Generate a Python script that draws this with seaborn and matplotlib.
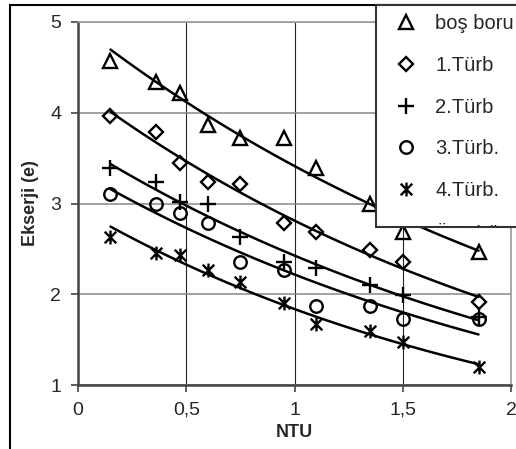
import numpy as np
import pandas as pd
import matplotlib
matplotlib.use("Agg")
import matplotlib.pyplot as plt
from matplotlib.path import Path
from matplotlib.patches import Rectangle
from matplotlib.transforms import Bbox, TransformedBbox
import seaborn as sns

# data
ntu = [0.15, 0.36, 0.47, 0.60, 0.75, 0.95, 1.10, 1.35, 1.50, 1.85]
bos_boru = [4.57, 4.34, 4.22, 3.87, 3.72, 3.72, 3.39, 3.00, 2.69, 2.47]
turb1 = [3.96, 3.79, 3.45, 3.24, 3.22, 2.79, 2.69, 2.49, 2.35, 1.91]
turb2 = [3.39, 3.24, 3.02, 3.00, 2.63, 2.35, 2.29, 2.10, 1.99, 1.75]
turb3 = [3.11, 2.99, 2.90, 2.79, 2.36, 2.27, 1.87, 1.87, 1.73, 1.73]
turb4 = [2.63, 2.46, 2.43, 2.27, 2.13, 1.90, 1.67, 1.59, 1.47, 1.20]
labels = ["boş boru", "1.Türb", "2.Türb", "3.Türb.", "4.Türb."]
trend_label = "Üstel (boş boru)"
xticks = [0, 0.5, 1, 1.5, 2]
xticklabels = ["0", "0,5", "1", "1,5", "2"]
yticks = [1, 2, 3, 4, 5]

sns.set_style("white")
plt.rcParams["font.family"] = ["Liberation Sans", "DejaVu Sans"]

W, H = 516, 449
fig = plt.figure(figsize=(W / 100, H / 100), dpi=100)
ax = fig.add_axes([78 / W, 1 - 385 / H, (511 - 78) / W, (385 - 22) / H])

# star marker like excel: X with a vertical bar
star = Path([(-1, -1), (1, 1), (-1, 1), (1, -1), (0, -1.2), (0, 1.2)],
            [Path.MOVETO, Path.LINETO, Path.MOVETO, Path.LINETO, Path.MOVETO, Path.LINETO])
markers = ["^", "D", "+", "o", star]
sizes = [10, 7, 11, 9, 10]

series = [bos_boru, turb1, turb2, turb3, turb4]
xs = np.linspace(min(ntu), max(ntu), 100)
handles = []
for vals, lab, mk, ms in zip(series, labels, markers, sizes):
    df = pd.DataFrame({"NTU": ntu, "e": vals})
    sns.lineplot(data=df, x="NTU", y="e", ax=ax, linestyle="", marker=mk,
                 markersize=ms, markerfacecolor="none", markeredgecolor="black",
                 markeredgewidth=1.7, color="black", zorder=3)
    handles.append(ax.lines[-1])
    # excel exponential trendline
    b, loga = np.polyfit(ntu, np.log(vals), 1)
    tr = pd.DataFrame({"NTU": xs, "e": np.exp(loga) * np.exp(b * xs)})
    sns.lineplot(data=tr, x="NTU", y="e", ax=ax, color="black", lw=1.8, zorder=2)

ax.set_xlim(0, 2)
ax.set_ylim(1, 5)
ax.set_xticks(xticks)
ax.set_xticklabels(xticklabels)
ax.set_yticks(yticks)
ax.tick_params(axis="both", direction="out", length=5, width=1.2, color="#444",
               labelsize=14, pad=7, left=True, bottom=True)
ax.set_xlabel("NTU", fontsize=13, fontweight="bold", labelpad=4)
ax.set_ylabel("Ekserji (e)", fontsize=13, fontweight="bold", labelpad=8)

ax.xaxis.grid(True, color="#222", lw=0.8)
ax.yaxis.grid(True, color="#888", lw=1.1)
for s in ["left", "bottom"]:
    ax.spines[s].set_color("#444")
    ax.spines[s].set_linewidth(1.8)
for s in ["top", "right"]:
    ax.spines[s].set_color("#999")
    ax.spines[s].set_linewidth(1.2)

# outer chart border
fig.patches.append(Rectangle((9.5 / W, -0.1), 1.2, 1.1 - 5.5 / H, transform=fig.transFigure,
                             fill=False, edgecolor="black", lw=1.5, zorder=0))

# legend box, cut at the bottom like the original
bx0, by0 = 376 / W, 1 - 227 / H
box = Rectangle((bx0, by0), 0.5, 1 - 5 / H - by0, transform=fig.transFigure,
                facecolor="white", edgecolor="#333", lw=1.5, zorder=5)
fig.patches.append(box)
trend_handle = plt.Line2D([], [], color="black", lw=1.8)
leg = fig.legend(handles + [trend_handle], labels + [trend_label], loc="upper left",
                 bbox_to_anchor=(bx0, 1 - 5 / H), bbox_transform=fig.transFigure,
                 frameon=False, fontsize=14.5, handlelength=2.1, handletextpad=0.4,
                 labelspacing=1.13, borderpad=0.45, borderaxespad=0)
leg.set_zorder(6)
clip = TransformedBbox(Bbox([[bx0, by0], [1.2, 1 - 5 / H]]), fig.transFigure)
for t in leg.get_texts():
    t.set_clip_box(clip)
for h in leg.legend_handles:
    h.set_clip_box(clip)

fig.savefig("out.png", dpi=100)
